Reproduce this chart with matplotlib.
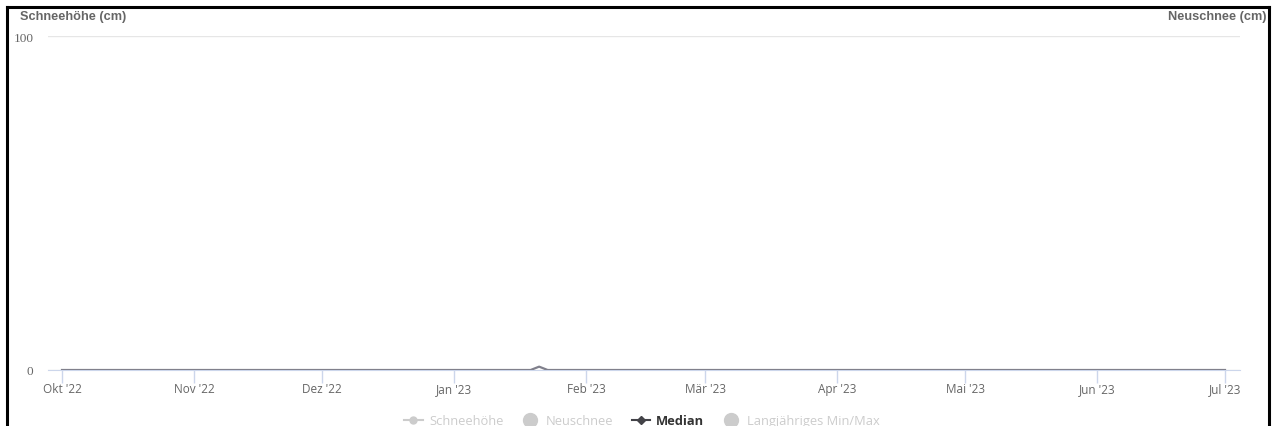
import matplotlib
matplotlib.use("Agg")
import matplotlib.pyplot as plt
import matplotlib.dates as mdates
from matplotlib.lines import Line2D

# Daten
median_dates = ["2022-10-01", "2023-01-19", "2023-01-21", "2023-01-23", "2023-07-01"]
median_values = [0, 0, 1, 0, 0]
month_ticks = ["2022-10-01", "2022-11-01", "2022-12-01", "2023-01-01", "2023-02-01",
               "2023-03-01", "2023-04-01", "2023-05-01", "2023-06-01", "2023-07-01"]
month_labels = ["Okt '22", "Nov '22", "Dez '22", "Jan '23", "Feb '23",
                "Mär '23", "Apr '23", "Mai '23", "Jun '23", "Jul '23"]
y_ticks = [0, 100]
legend_names = ["Schneehöhe", "Neuschnee", "Median", "Langjähriges Min/Max"]

W, H = 1274, 427
fig = plt.figure(figsize=(W / 100, H / 100), dpi=100)
plt.rcParams['font.family'] = ['Open Sans', 'DejaVu Sans']

# Plotbereich in Pixeln
x0, x1 = 48, 1240
y_top, y_bot = 37, 371
ax = fig.add_axes([x0 / W, (H - y_bot) / H, (x1 - x0) / W, (y_bot - y_top) / H])

dates = [mdates.datestr2num(d) for d in median_dates]
ax.plot(dates, median_values, color="#80808c", lw=1.6, zorder=3)

t_first = mdates.datestr2num(month_ticks[0])
t_last = mdates.datestr2num(month_ticks[-1])
ppd = (1225 - 62) / (t_last - t_first)
ax.set_xlim(t_first - (62 - x0) / ppd, t_last + (x1 - 1225) / ppd)
ax.set_ylim(0, 100)

ax.set_xticks([mdates.datestr2num(d) for d in month_ticks])
ax.set_xticklabels(month_labels)
ax.set_yticks(y_ticks)
ax.tick_params(axis="x", colors="#ccd6eb", length=9, width=1, labelcolor="#666666",
               labelsize=8.5, pad=0)
ax.tick_params(axis="y", length=0, labelcolor="#666666", labelsize=9.5, pad=10.5)
for lab in ax.get_yticklabels():
    lab.set_fontfamily(["Liberation Serif"])

ax.grid(axis="y", color="#e6e6e6", lw=1)
for s in ["top", "right", "left"]:
    ax.spines[s].set_visible(False)
ax.spines["bottom"].set_color("#ccd6eb")
ax.set_axisbelow(True)

# Achsentitel
fig.text(20 / W, 1 - 17 / H, "Schneehöhe (cm)", color="#666666", fontsize=9.2,
         fontweight="bold", family=["Liberation Sans"], ha="left", va="center")
fig.text(1266 / W, 1 - 17 / H, "Neuschnee (cm)", color="#666666", fontsize=9.2,
         fontweight="bold", family=["Liberation Sans"], ha="right", va="center")

# Legende
hidden = "#cccccc"
handles = [
    Line2D([], [], color=hidden, marker="o", markersize=5, lw=1.5),
    Line2D([], [], color=hidden, marker="o", markersize=10, lw=0),
    Line2D([], [], color="#434348", marker="D", markersize=4, lw=1.5),
    Line2D([], [], color=hidden, marker="o", markersize=10, lw=0),
]
leg = fig.legend(handles, legend_names, loc="center", bbox_to_anchor=(642 / W, 1 - 422 / H),
                 ncol=4, frameon=False, fontsize=9.3, handlelength=1.4, handletextpad=0.5,
                 columnspacing=1.4)
for txt, c in zip(leg.get_texts(), [hidden, hidden, "#333333", hidden]):
    txt.set_color(c)
leg.get_texts()[2].set_fontweight("bold")

# Rahmen des Screenshots
frame = dict(color="black", lw=2.2, transform=fig.transFigure)
fig.add_artist(Line2D([7 / W, 7 / W], [0, 1 - 8 / H], **frame))
fig.add_artist(Line2D([7 / W, 1269 / W], [1 - 8 / H, 1 - 8 / H], **frame))
fig.add_artist(Line2D([1269 / W, 1269 / W], [0, 1 - 8 / H], **frame))

fig.savefig("out.png", dpi=100)
